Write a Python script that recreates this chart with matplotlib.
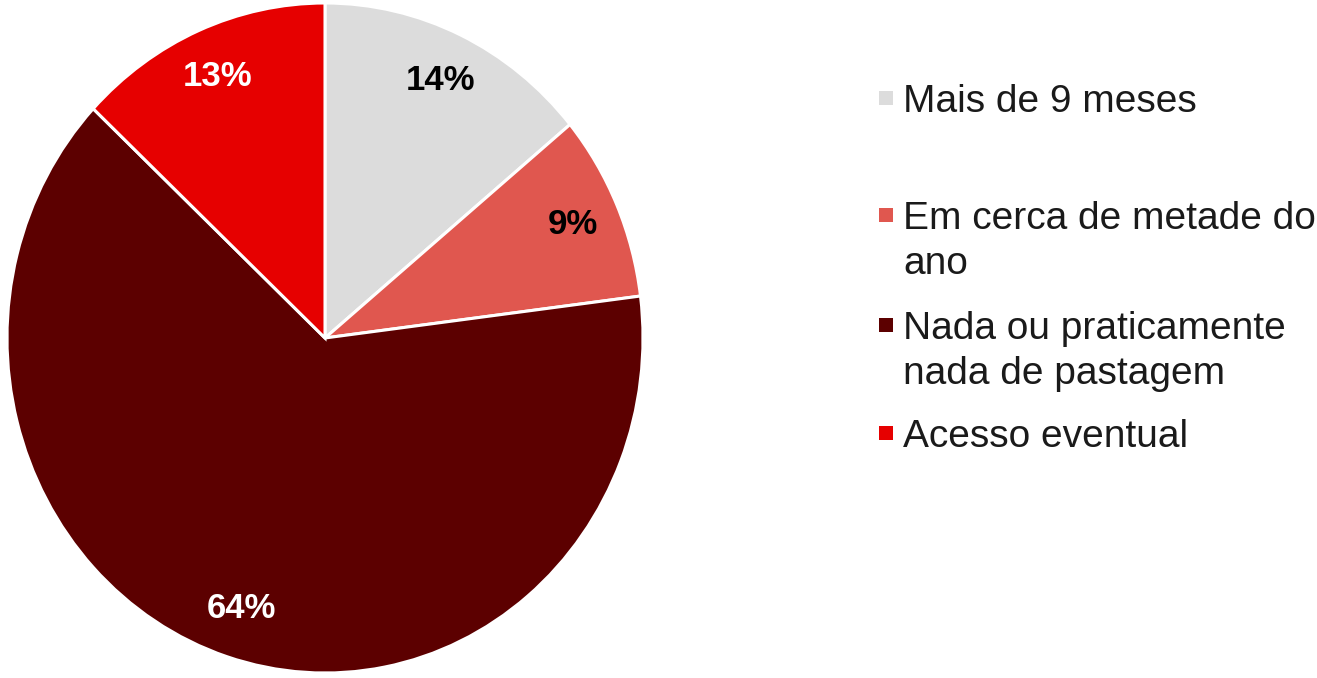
import matplotlib.pyplot as plt
from matplotlib.patches import Rectangle

labels = ['Mais de 9 meses', 'Em cerca de metade do\nano',
          'Nada ou praticamente\nnada de pastagem', 'Acesso eventual']
values = [14, 9, 64, 13]
colors = ['#DCDCDC', '#E0574F', '#5C0000', '#E60000']
pct_colors = ['black', 'black', 'white', 'white']

plt.rcParams['font.family'] = ['Liberation Sans', 'DejaVu Sans']

W, H = 1317, 678
fig = plt.figure(figsize=(W / 100, H / 100), dpi=100, facecolor='white')

# pie is slightly stretched vertically in the reference: centre (325, 338), rx 318, ry 335
cx, cy, rx, ry = 325, 338, 318, 335
ax = fig.add_axes([(cx - rx) / W, (H - cy - ry) / H, 2 * rx / W, 2 * ry / H])
wedges, texts, autotexts = ax.pie(
    values, colors=colors, startangle=90, counterclock=False,
    autopct=lambda p: '{:.0f}%'.format(p), pctdistance=0.85,
    wedgeprops=dict(edgecolor='white', linewidth=2.2),
    textprops=dict(fontsize=25, fontweight='bold'))
for t, c in zip(autotexts, pct_colors):
    t.set_color(c)
ax.set_aspect('auto')
ax.set_xlim(-1, 1)
ax.set_ylim(-1, 1)
ax.axis('off')

# legend drawn by hand: first-line centre y (pixels) of each entry
row_y = [98, 215, 325, 433]
line_step = 45
for lab, col, y in zip(labels, colors, row_y):
    fig.patches.append(Rectangle((879 / W, (H - y - 7) / H), 14 / W, 14 / H,
                                 transform=fig.transFigure, facecolor=col,
                                 edgecolor='none'))
    for j, line in enumerate(lab.split('\n')):
        fig.text(903 / W, (H - y - j * line_step) / H, line, fontsize=28,
                 color='#1a1a1a', va='center_baseline', ha='left')

fig.savefig('out.png', dpi=100, facecolor='white')
